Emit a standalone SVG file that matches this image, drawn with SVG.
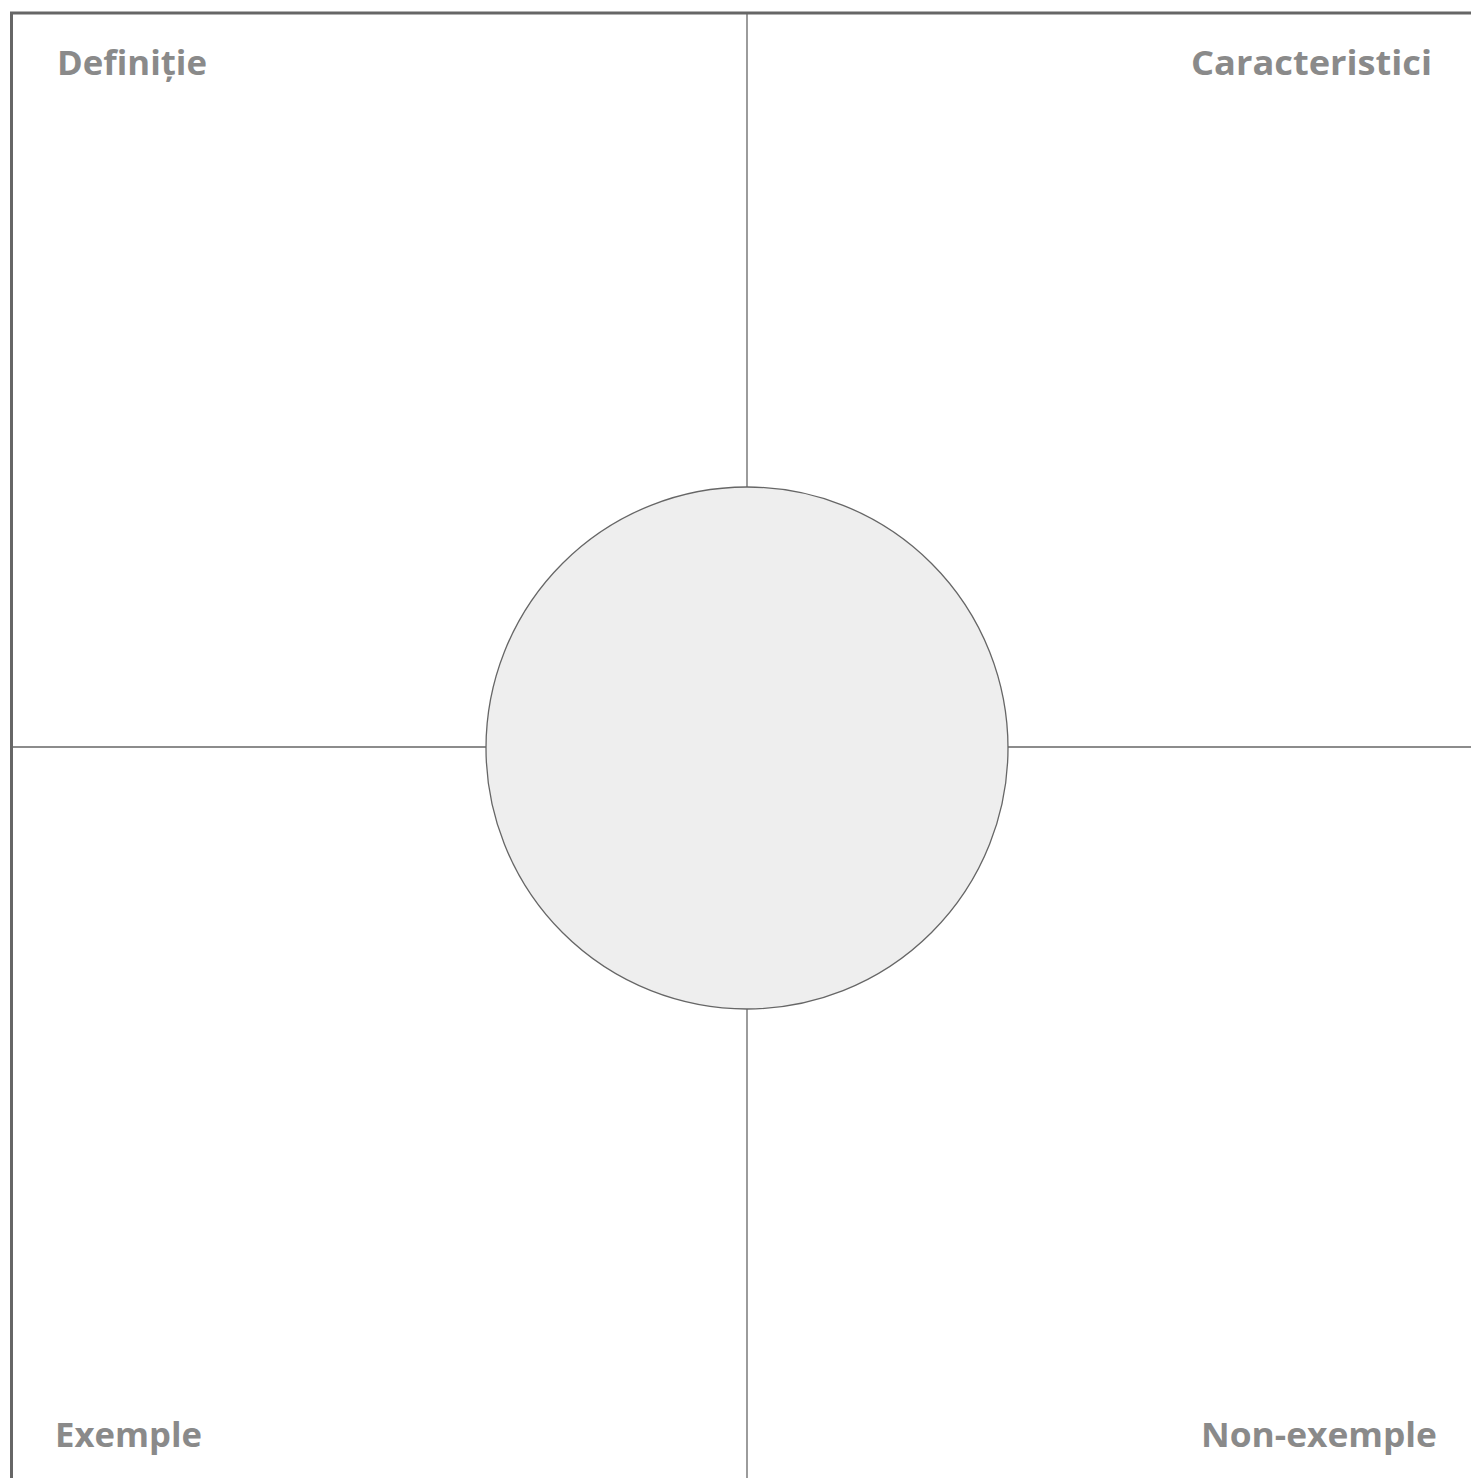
<svg xmlns="http://www.w3.org/2000/svg" width="1471" height="1478" viewBox="0 0 1471 1478">
<style>
.lbl{font-family:"Open Sans","Liberation Sans",Arial,sans-serif;font-weight:bold;font-size:34px;fill:#8a8a8a}
.ln{stroke:#666;stroke-width:1.3;fill:none}
</style>
<rect x="0" y="0" width="1471" height="1478" fill="#fff"/>
<g id="frame">
<path d="M11.5 1478 V13 H1471" stroke="#666" stroke-width="3" fill="none"/>
</g>
<g id="connectors">
<line class="ln" x1="747" y1="13" x2="747" y2="487"/>
<line class="ln" x1="747" y1="1009" x2="747" y2="1478"/>
<line class="ln" x1="13" y1="747" x2="486" y2="747"/>
<line class="ln" x1="1008" y1="747" x2="1471" y2="747"/>
</g>
<g id="center">
<circle cx="747" cy="748" r="261" fill="#eeeeee" stroke="#666" stroke-width="1.3"/>
</g>
<g id="definitie"><text class="lbl" x="57" y="75" textLength="150" lengthAdjust="spacingAndGlyphs">Definiție</text></g>
<g id="caracteristici"><text class="lbl" x="1191" y="75" textLength="241" lengthAdjust="spacingAndGlyphs">Caracteristici</text></g>
<g id="exemple"><text class="lbl" x="55" y="1447" textLength="147" lengthAdjust="spacingAndGlyphs">Exemple</text></g>
<g id="non-exemple"><text class="lbl" x="1201" y="1447" textLength="236" lengthAdjust="spacingAndGlyphs">Non-exemple</text></g>
</svg>
